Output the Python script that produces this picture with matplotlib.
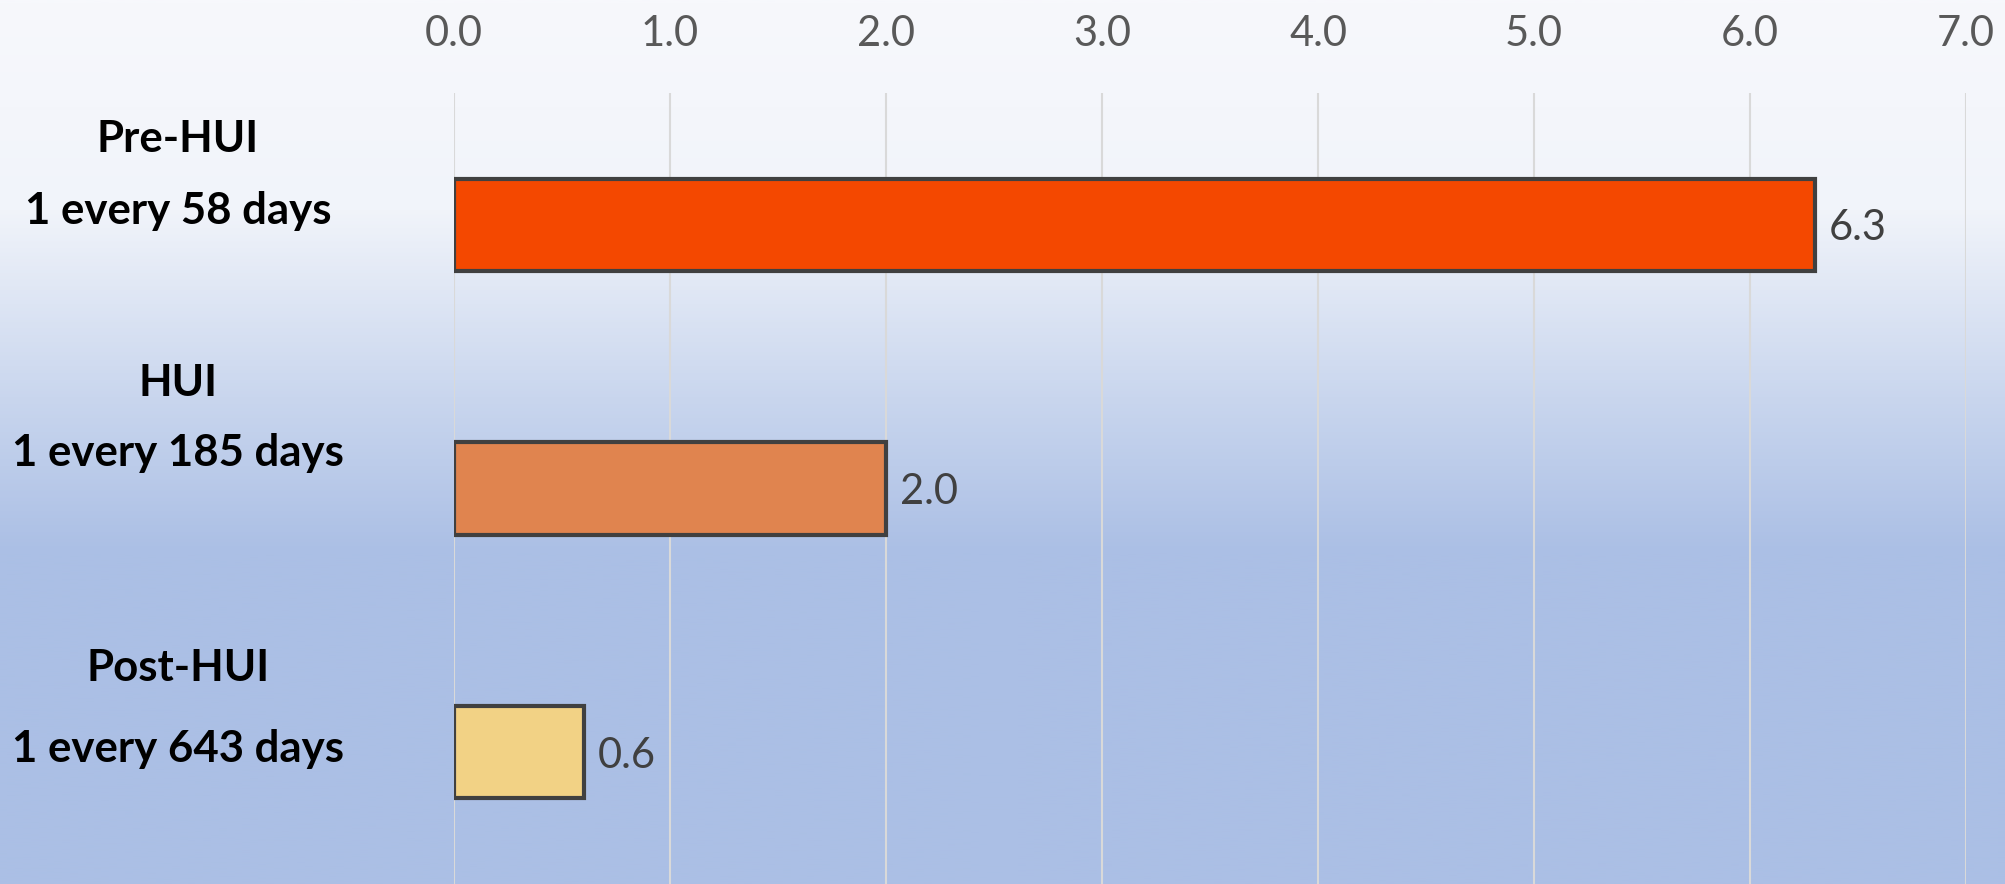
import numpy as np
import matplotlib.pyplot as plt
from matplotlib.colors import LinearSegmentedColormap
from matplotlib.transforms import blended_transform_factory

# data
periods = ["Pre-HUI", "HUI", "Post-HUI"]
frequency = ["1 every 58 days", "1 every 185 days", "1 every 643 days"]
values = [6.3, 2.0, 0.6]
xticks = [0, 1, 2, 3, 4, 5, 6, 7]

# style
bar_colors = ["#f44800", "#e0844f", "#f2d285"]
label_shift = [(0.326, 0.053), (0.40, 0.133), (0.32, 0.011)]  # line1/line2 lift, category units
font_bold = "Lato"
font_reg = "Lato"

fig = plt.figure(figsize=(20.06, 8.84), dpi=100)

# background gradient over the whole figure
bg = fig.add_axes([0, 0, 1, 1], zorder=0)
cmap = LinearSegmentedColormap.from_list(
    "bg", [(0.0, "#f7f8fc"), (0.236, "#f1f4fa"), (0.45, "#c9d6ee"),
           (0.625, "#abbfe5"), (1.0, "#abbfe5")])
grad = np.linspace(0, 1, 512).reshape(-1, 1)
bg.imshow(grad, aspect="auto", cmap=cmap, extent=[0, 1, 0, 1], origin="upper")
bg.axis("off")

ax = fig.add_axes([0.2263, 0.0, 0.9801 - 0.2263, 0.8948], zorder=1)
ax.set_facecolor("none")

pos = np.arange(len(values))
ax.barh(pos, values, height=0.35, color=bar_colors, edgecolor="#404040",
        linewidth=3, zorder=3)

ax.set_xlim(0, 7)
ax.set_ylim(2.5, -0.5)
ax.set_xticks(xticks)
ax.set_xticklabels([f"{t:.1f}" for t in xticks], fontsize=30,
                   color="#595959", family=font_reg)
ax.xaxis.tick_top()
ax.tick_params(axis="x", length=0, pad=29)
ax.set_yticks([])
ax.grid(axis="x", color="#d9d9d9", linewidth=1.5, zorder=0)
for s in ax.spines.values():
    s.set_visible(False)

for i, v in enumerate(values):
    ax.annotate(f"{v:.1f}", xy=(v, i), xytext=(10, 0), textcoords="offset points",
                va="center_baseline", ha="left", fontsize=30, color="#404040",
                family=font_reg)

trans = blended_transform_factory(fig.transFigure, ax.transData)
for i, (p, f) in enumerate(zip(periods, frequency)):
    s1, s2 = label_shift[i]
    ax.text(0.0887, i - s1, p, transform=trans, ha="center", va="center",
            fontsize=31.5, fontweight="bold", color="black", family=font_bold)
    ax.text(0.0887, i - s2, f, transform=trans, ha="center", va="center",
            fontsize=31.5, fontweight="bold", color="black", family=font_bold)

fig.savefig("out.png", dpi=100)
